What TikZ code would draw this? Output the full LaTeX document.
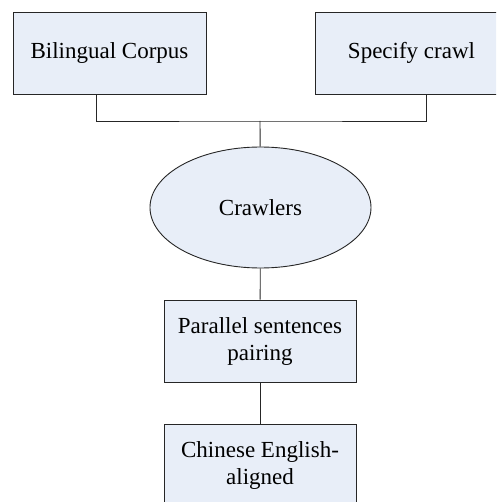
\documentclass[tikz,border=0pt]{standalone}
\usepackage{fontspec}
\setmainfont{Liberation Serif}
\usetikzlibrary{positioning,shapes.geometric}

\definecolor{boxfill}{RGB}{232,238,248}

\begin{document}
\begin{tikzpicture}[
    x=1pt, y=-1pt,
    box/.style={rectangle, draw=black!85, line width=0.9pt, fill=boxfill, align=center,
        minimum width=193pt, minimum height=82pt, inner sep=0pt,
        font=\fontsize{23}{27}\selectfont},
    crawlbox/.style={box, shape=ellipse, minimum width=221pt, minimum height=121pt},
    link/.style={draw=black!85, line width=0.9pt}
]
\useasboundingbox (0,0) rectangle (496,502);
\clip (0,0) rectangle (496,502);

\node[box] (corpus) at (109.5,53) {Bilingual Corpus};
\node[box] (spec) at (411.5,53) {Specify crawl};
\node[crawlbox] (crawlers) at (260.5,207.5) {Crawlers};
\node[box, minimum width=192pt] (pairing) at (260,341) {Parallel sentences\\pairing};
\node[box, minimum width=192pt] (aligned) at (260,465) {Chinese English-\\aligned};

\coordinate (join) at (260,121);

\draw[link] ([xshift=-13.5pt]corpus.south) |- (join) -| ([xshift=14.5pt]spec.south);
\draw[link] (join) -- (crawlers);
\draw[link] (crawlers) -- (pairing);
\draw[link] (pairing) -- (aligned);

\end{tikzpicture}
\end{document}
